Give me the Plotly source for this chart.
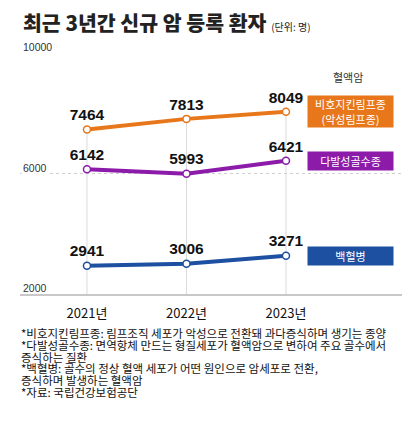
import plotly.graph_objects as go

# ---- data ----
years = ["2021년", "2022년", "2023년"]
nhl = [7464, 7813, 8049]        # 비호지킨림프종
mm = [6142, 5993, 6421]         # 다발성골수종
leuk = [2941, 3006, 3271]       # 백혈병
series_names = ["비호지킨림프종<br>(악성림프종)", "다발성골수종", "백혈병"]
y_ticks = [2000, 6000, 10000]
title_text = "최근 3년간 신규 암 등록 환자"
unit_text = "(단위: 명)"
group_label = "혈액암"
footnotes = [
    "*비호지킨림프종: 림프조직 세포가 악성으로 전환돼 과다증식하며 생기는 종양",
    "*다발성골수종: 면역항체 만드는 형질세포가 혈액암으로 변하여 주요 골수에서",
    "증식하는 질환",
    "*백혈병: 골수의 정상 혈액 세포가 어떤 원인으로 암세포로 전환,",
    "증식하며 발생하는 혈액암",
    "*자료: 국립건강보험공단",
]

# ---- style ----
W, H = 420, 442
OFF = 8                      # page body margin
ML, MR, MT, MB = 12, 26, 45, 156
colors = ["#E7771A", "#8C1BAA", "#1D50A1"]
KR = "Noto Sans CJK KR"
NUM = "Liberation Sans, Arial, sans-serif"


def px2x(px):
    return (px - OFF - ML) / (W - ML - MR)


def px2y(py):
    return (H - MB - (py - OFF)) / (H - MT - MB)


fig = go.Figure()

# drop lines from the top series down to the axis
dx, dy = [], []
for i, yr in enumerate(years):
    dx += [yr, yr, None]
    dy += [nhl[i], y_ticks[0], None]
fig.add_trace(go.Scatter(x=dx, y=dy, mode="lines",
                         line=dict(color="#dadada", width=1),
                         hoverinfo="skip", showlegend=False))

for vals, col in zip([nhl, mm, leuk], colors):
    fig.add_trace(go.Scatter(
        x=years, y=vals, mode="lines+markers+text",
        line=dict(color=col, width=4),
        marker=dict(size=7, color="white", line=dict(color=col, width=1.5)),
        text=[f"{v}" for v in vals], textposition="top center",
        textfont=dict(family=NUM, size=15.5, color="#111", weight="bold"),
        cliponaxis=False, showlegend=False))

ann = []
# series name boxes at the last value
for name, vals, col in zip(series_names, [nhl, mm, leuk], colors):
    two = "<br>" in name
    ann.append(dict(x=years[-1], y=vals[-1], xref="x", yref="y",
                    text=name, showarrow=False, xanchor="left", yanchor="middle",
                    xshift=21, width=83, height=29 if two else 16,
                    align="center", valign="middle", bgcolor=col, borderpad=1,
                    font=dict(family=KR, size=11, color="white")))

# y tick labels
for t in y_ticks:
    ann.append(dict(x=0, y=t, xref="paper", yref="y", text=f"{t}",
                    showarrow=False, xanchor="left", yanchor="middle",
                    xshift=1, yshift=6,
                    bgcolor="white" if t != y_ticks[0] else "rgba(0,0,0,0)",
                    borderpad=1,
                    font=dict(family="Liberation Sans, Arial", size=10.5, color="#333")))

# title
ann.append(dict(x=px2x(21), y=px2y(22), xref="paper", yref="paper",
                text=f"{title_text} <span style='font-size:10px;font-weight:400'>{unit_text}</span>",
                showarrow=False, xanchor="left", yanchor="middle",
                font=dict(family=KR, size=20.5, color="#222", weight=900)))

ann.append(dict(x=px2x(348), y=px2y(77), xref="paper", yref="paper",
                text=group_label, showarrow=False, xanchor="center", yanchor="middle",
                font=dict(family=KR, size=11, color="#333")))

# footnotes
for i, line in enumerate(footnotes):
    ann.append(dict(x=px2x(19), y=px2y(333 + i * 11.8), xref="paper", yref="paper",
                    text=line, showarrow=False, xanchor="left", yanchor="middle",
                    font=dict(family=KR, size=11.5, color="#111")))

fig.update_layout(
    width=W, height=H, margin=dict(l=ML, r=MR, t=MT, b=MB),
    paper_bgcolor="white", plot_bgcolor="white",
    annotations=ann,
    xaxis=dict(type="category", range=[-0.673, 3.166], showgrid=False,
               showline=True, linecolor="#c8c8c8", linewidth=2, ticks="",
               tickfont=dict(family=KR, size=13, color="#111"),
               ticklabelstandoff=6, zeroline=False, fixedrange=True),
    yaxis=dict(range=[2000, 10000], tick0=2000, dtick=4000, showticklabels=False,
               showgrid=True, gridcolor="#cfcfcf", griddash="dot", gridwidth=1,
               zeroline=False, showline=False, fixedrange=True),
)

fig.write_html("out.html")
